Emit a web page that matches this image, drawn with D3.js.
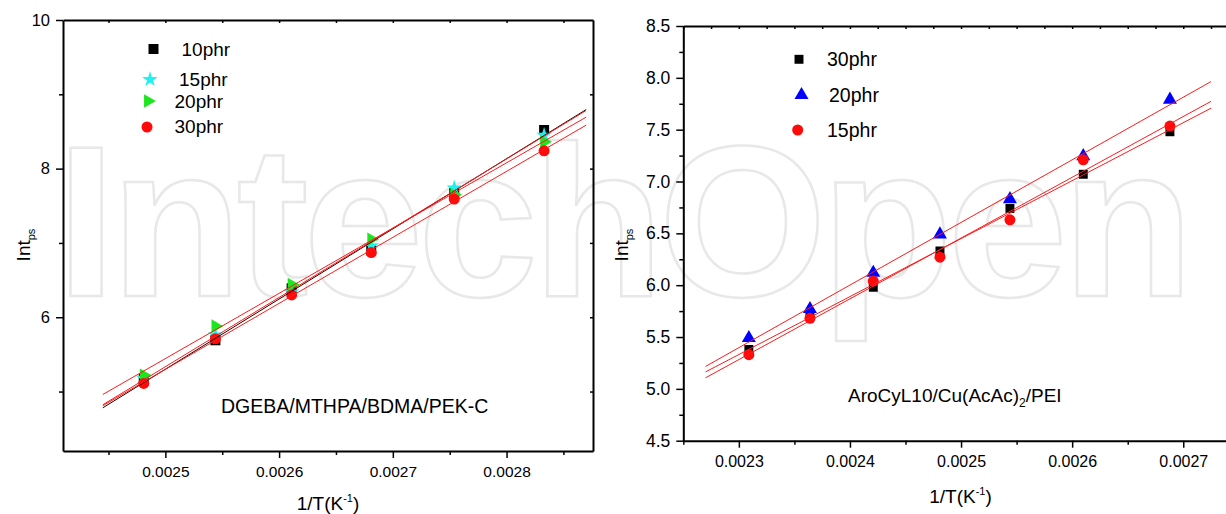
<!DOCTYPE html>
<html><head><meta charset="utf-8">
<script src="https://cdn.jsdelivr.net/npm/d3@7"></script>
<style>
html,body{margin:0;padding:0;background:#fff;}
svg{display:block;font-family:"Liberation Sans",Arial,sans-serif;}
</style></head>
<body>
<svg id="chart" width="1226" height="514"></svg>
<script>
// ---------- data ----------
// Left panel: DGEBA/MTHPA/BDMA/PEK-C
const leftX = [0.002481, 0.002544, 0.002611, 0.002681, 0.002754, 0.002833];
const left10phr = [5.17, 5.69, 6.39, 6.90, 7.67, 8.52];
const left15phr = [5.18, 5.76, 6.34, 6.96, 7.74, 8.45];
const left20phr = [5.22, 5.88, 6.44, 7.05, 7.65, 8.36];
const left30phr = [5.11, 5.71, 6.30, 6.87, 7.59, 8.24];
const leftFitRange = [0.002445, 0.00287];
const leftXTicks = [0.0025, 0.0026, 0.0027, 0.0028];
const leftXMinor = [0.00245, 0.00255, 0.00265, 0.00275, 0.00285];
const leftYTicks = [6, 8, 10];
const leftYMinor = [5, 7, 9];
const leftLegend = ["10phr", "15phr", "20phr", "30phr"];
const leftNote = "DGEBA/MTHPA/BDMA/PEK-C";

// Right panel: AroCyL10/Cu(AcAc)2/PEI
const rightX = [0.002309, 0.002364, 0.002421, 0.002481, 0.002544, 0.002610, 0.002688];
const right30phr = [5.38, 5.70, 5.98, 6.33, 6.74, 7.07, 7.48];
const right20phr = [5.49, 5.77, 6.12, 6.49, 6.83, 7.245, 7.79];
const right15phr = [5.33, 5.68, 6.04, 6.27, 6.63, 7.21, 7.535];
const rightFitRange = [0.00227, 0.002725];
const rightXTicks = [0.0023, 0.0024, 0.0025, 0.0026, 0.0027];
const rightXMinor = [0.00225, 0.00235, 0.00245, 0.00255, 0.00265];
const rightXTop = d3.range(0, 20).map(i => 0.00225 + i * 0.000025);
const rightYTicks = [4.5, 5.0, 5.5, 6.0, 6.5, 7.0, 7.5, 8.0, 8.5];
const rightYMinor = [4.75, 5.25, 5.75, 6.25, 6.75, 7.25, 7.75, 8.25];
const rightLegend = ["30phr", "20phr", "15phr"];

const svg = d3.select("#chart");

// watermark
svg.append("text")
  .attr("x", 56).attr("y", 296)
  .attr("font-size", 216).attr("font-weight", "bold")
  .attr("textLength", 1138).attr("lengthAdjust", "spacing")
  .attr("fill", "none").attr("stroke", "#e8e8e8").attr("stroke-width", 2.5)
  .text("IntechOpen");

// least squares helper
function fit(xs, ys) {
  const mx = d3.mean(xs), my = d3.mean(ys);
  let sxy = 0, sxx = 0;
  xs.forEach((x, i) => { sxy += (x - mx) * (ys[i] - my); sxx += (x - mx) * (x - mx); });
  const b = sxy / sxx;
  return x => my + b * (x - mx);
}

function sym(type, size) { return d3.symbol().type(type).size(size)(); }

function drawPanel(cfg) {
  const g = svg.append("g");
  const x = cfg.x, y = cfg.y;
  const [x0, x1] = x.range(), [y0, y1] = y.range();

  cfg.series.forEach(s => {
    s.vals.forEach((v, i) => {
      g.append("path")
        .attr("d", sym(s.shape, s.size))
        .attr("transform", `translate(${x(cfg.xs[i])},${y(v)}) rotate(${s.rot || 0})`)
        .attr("fill", s.color);
    });
  });
  cfg.series.forEach(s => {
    const f = fit(cfg.xs, s.vals);
    g.append("line")
      .attr("x1", x(cfg.fitRange[0])).attr("y1", y(f(cfg.fitRange[0])))
      .attr("x2", x(cfg.fitRange[1])).attr("y2", y(f(cfg.fitRange[1])))
      .attr("stroke", s.lineColor).attr("stroke-width", 1);
  });

  const axStyle = sel => {
    sel.select(".domain").attr("stroke", "#000").attr("stroke-width", 2);
    sel.selectAll(".tick line").attr("stroke", "#000").attr("stroke-width", 1.5);
    sel.selectAll(".tick text").attr("fill", "#000").attr("font-family", '"Liberation Sans",Arial,sans-serif');
  };
  g.append("g").attr("transform", `translate(0,${y0})`)
    .call(d3.axisBottom(x).tickValues(cfg.xTicks).tickFormat(d3.format(".4f")).tickSize(7).tickSizeOuter(0).tickPadding(8))
    .call(axStyle).call(s => s.selectAll("text").attr("font-size", cfg.xFont));
  g.append("g").attr("transform", `translate(0,${y0})`)
    .call(d3.axisBottom(x).tickValues(cfg.xMinor).tickFormat("").tickSize(4).tickSizeOuter(0))
    .call(axStyle).call(s => s.select(".domain").remove());
  g.append("g").attr("transform", `translate(${x0},0)`)
    .call(d3.axisLeft(y).tickValues(cfg.yTicks).tickFormat(cfg.yFormat).tickSize(7).tickSizeOuter(0).tickPadding(6))
    .call(axStyle).call(s => s.selectAll("text").attr("font-size", cfg.yFont));
  g.append("g").attr("transform", `translate(${x0},0)`)
    .call(d3.axisLeft(y).tickValues(cfg.yMinor).tickFormat("").tickSize(4).tickSizeOuter(0))
    .call(axStyle).call(s => s.select(".domain").remove());
  g.append("g").attr("transform", `translate(0,${y1})`)
    .call(d3.axisTop(x).tickValues(cfg.xTop).tickFormat("").tickSize(-3).tickSizeOuter(0))
    .call(axStyle);
  if (cfg.rightAxis) {
    g.append("g").attr("transform", `translate(${x1},0)`)
      .call(d3.axisRight(y).tickValues(cfg.yRight).tickFormat("").tickSize(-3).tickSizeOuter(0))
      .call(axStyle);
  }

  cfg.legend.forEach((l, i) => {
    const s = cfg.series[l.idx];
    g.append("path").attr("d", sym(s.shape, s.size))
      .attr("transform", `translate(${l.mx},${l.my}) rotate(${s.rot || 0})`)
      .attr("fill", s.color);
    g.append("text").attr("x", l.tx).attr("y", l.ty)
      .attr("font-size", cfg.legendFont).attr("fill", "#000").text(cfg.legendNames[i]);
  });

  g.append("text")
    .attr("transform", `translate(${cfg.yLabelPos[0]},${cfg.yLabelPos[1]}) rotate(-90)`)
    .attr("text-anchor", "middle").attr("font-size", 19).attr("fill", "#000")
    .call(t => { t.append("tspan").text("Int"); t.append("tspan").attr("dy", 5).attr("font-size", 11).text("ps"); });
  g.append("text")
    .attr("x", cfg.xLabelPos[0]).attr("y", cfg.xLabelPos[1])
    .attr("text-anchor", "middle").attr("font-size", 19).attr("fill", "#000")
    .call(t => {
      t.append("tspan").text("1/T(K");
      t.append("tspan").attr("dy", -8).attr("font-size", 11).text("-1");
      t.append("tspan").attr("dy", 8).text(")");
    });
  return g;
}

// ---------- left panel ----------
const xL = d3.scaleLinear().domain([0.00241, 0.002876]).range([63, 593]);
const yL = d3.scaleLinear().domain([4.2, 10]).range([451, 20]);
const gL = drawPanel({
  x: xL, y: yL, xs: leftX, fitRange: leftFitRange,
  series: [
    { vals: left10phr, shape: d3.symbolSquare, size: 100, color: "#000", lineColor: "#1a0000" },
    { vals: left15phr, shape: d3.symbolStar, size: 75, color: "#1ff0f0", lineColor: "#ff1a1a" },
    { vals: left20phr, shape: d3.symbolTriangle, size: 80, rot: 90, color: "#1ee61e", lineColor: "#ff1a1a" },
    { vals: left30phr, shape: d3.symbolCircle, size: 95, color: "#ff0a0a", lineColor: "#ff1a1a" }
  ],
  xTicks: leftXTicks, xMinor: leftXMinor, yTicks: leftYTicks, yMinor: leftYMinor,
  xTop: leftXMinor.concat(leftXTicks), rightAxis: true, yRight: [5, 6, 7, 8, 9],
  yFormat: d3.format("d"), xFont: 15.5, yFont: 16.5,
  legendNames: leftLegend, legendFont: 19,
  legend: [
    { idx: 0, mx: 153.5, my: 49, tx: 181.5, ty: 56 },
    { idx: 1, mx: 150, my: 79.5, tx: 179, ty: 86 },
    { idx: 2, mx: 148, my: 101, tx: 174.5, ty: 108 },
    { idx: 3, mx: 147, my: 127, tx: 174.5, ty: 133 }
  ],
  yLabelPos: [30, 245], xLabelPos: [328, 510]
});
gL.append("text").attr("x", 221).attr("y", 413).attr("font-size", 19.5).attr("fill", "#000").text(leftNote);

// ---------- right panel ----------
const xR = d3.scaleLinear().domain([0.00225, 0.00274]).range([683.3, 1227.7]);
const yR = d3.scaleLinear().domain([4.5, 8.5]).range([440.7, 26]);
const gR = drawPanel({
  x: xR, y: yR, xs: rightX, fitRange: rightFitRange,
  series: [
    { vals: right30phr, shape: d3.symbolSquare, size: 80, color: "#000", lineColor: "#ff1a1a" },
    { vals: right20phr, shape: d3.symbolTriangle, size: 85, color: "#0000ff", lineColor: "#ff1a1a" },
    { vals: right15phr, shape: d3.symbolCircle, size: 95, color: "#ff0a0a", lineColor: "#ff1a1a" }
  ],
  xTicks: rightXTicks, xMinor: rightXMinor, yTicks: rightYTicks, yMinor: rightYMinor,
  xTop: rightXTop, rightAxis: false,
  yFormat: d3.format(".1f"), xFont: 16, yFont: 17.5,
  legendNames: rightLegend, legendFont: 19.5,
  legend: [
    { idx: 0, mx: 799, my: 59.3, tx: 827, ty: 65.5 },
    { idx: 1, mx: 801.5, my: 95, tx: 829, ty: 101.5 },
    { idx: 2, mx: 797.7, my: 130, tx: 827, ty: 136.5 }
  ],
  yLabelPos: [628, 245], xLabelPos: [960.5, 503]
});
gR.append("text").attr("x", 848).attr("y", 402).attr("font-size", 19).attr("fill", "#000")
  .call(t => {
    t.append("tspan").text("AroCyL10/Cu(AcAc)");
    t.append("tspan").attr("dy", 5).attr("font-size", 12).text("2");
    t.append("tspan").attr("dy", -5).text("/PEI");
  });
</script>
</body></html>
